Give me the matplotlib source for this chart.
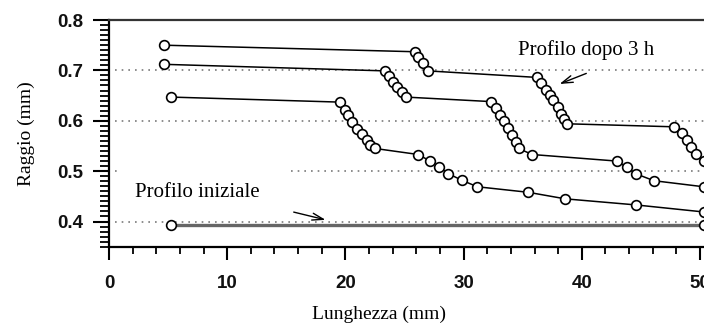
import matplotlib
matplotlib.use("Agg")
import matplotlib.pyplot as plt
from matplotlib.ticker import MultipleLocator

# profilo dopo 3 h (tre curve) e profilo iniziale
x_a = [4.65, 25.89, 26.17, 26.54, 26.96,
       36.23, 36.57, 36.94, 37.3, 37.59, 37.99, 38.27, 38.49, 38.72,
       47.8, 48.48, 48.87, 49.21, 49.64, 50.3]
y_a = [0.750, 0.737, 0.726, 0.714, 0.699,
       0.686, 0.674, 0.662, 0.651, 0.641, 0.627, 0.614, 0.604, 0.594,
       0.588, 0.575, 0.561, 0.548, 0.535, 0.521]

x_b = [4.68, 23.35, 23.7, 24.05, 24.4, 24.75, 25.1,
       32.35, 32.7, 33.05, 33.4, 33.75, 34.1, 34.4, 34.65, 35.8,
       42.95, 43.8, 44.55, 46.1, 50.3]
y_b = [0.712, 0.699, 0.688, 0.677, 0.667, 0.657, 0.647,
       0.638, 0.625, 0.612, 0.599, 0.586, 0.572, 0.558, 0.545, 0.533,
       0.520, 0.508, 0.495, 0.481, 0.469]

x_c = [5.25, 19.54, 19.97, 20.25, 20.6, 20.95, 21.37, 21.8, 22.08, 22.5,
       26.17, 27.16, 27.95, 28.71, 29.84, 31.16, 35.47, 38.6, 44.55, 50.3]
y_c = [0.647, 0.637, 0.621, 0.611, 0.598, 0.584, 0.573, 0.561, 0.551, 0.545,
       0.533, 0.520, 0.508, 0.495, 0.482, 0.469, 0.458, 0.445, 0.433, 0.419]

x_ini = [5.25, 50.3]
y_ini = [0.393, 0.393]

yticks = [0.4, 0.5, 0.6, 0.7, 0.8]
xticks = [0, 10, 20, 30, 40, 50]

fig = plt.figure(figsize=(7.04, 3.29), dpi=100)
ax = fig.add_axes([109 / 704, 82.3 / 329, 595 / 704, 226.7 / 329])

# linee tratteggiate di riferimento
for yv in [0.4, 0.6, 0.7]:
    ax.hlines(yv, 0.5, 51, colors="#7a7a7a", linestyles=(0, (1, 3)), lw=1.2, zorder=1)
ax.hlines(0.5, 0.5, 1.0, colors="#7a7a7a", linestyles=(0, (1, 3)), lw=1.2, zorder=1)
ax.hlines(0.5, 15.4, 51, colors="#7a7a7a", linestyles=(0, (1, 3)), lw=1.2, zorder=1)

mk = dict(marker="o", markersize=7, markerfacecolor="white",
          markeredgecolor="black", markeredgewidth=1.2, clip_on=True)
ax.plot(x_ini, y_ini, color="#666666", lw=2.4, zorder=2, **mk)
ax.plot(x_c, y_c, color="black", lw=1.1, zorder=3, **mk)
ax.plot(x_b, y_b, color="black", lw=1.1, zorder=3, **mk)
ax.plot(x_a, y_a, color="black", lw=1.1, zorder=3, **mk)

ax.set_xlim(0, 50.34)
ax.set_ylim(0.35, 0.8)
ax.set_xticks(xticks)
ax.set_yticks(yticks)
ax.xaxis.set_minor_locator(MultipleLocator(2))
ax.yaxis.set_minor_locator(MultipleLocator(0.01))
ax.set_yticklabels(["%.1f" % v for v in yticks])

for s in ["left", "bottom", "top"]:
    ax.spines[s].set_linewidth(1.6)
ax.spines["right"].set_visible(False)
ax.spines["top"].set_color("#333333")

ax.tick_params(axis="y", which="major", length=11.5, width=1.5, pad=7)
ax.tick_params(axis="y", which="minor", length=6.5, width=1.3)
ax.tick_params(axis="x", which="major", length=9.5, width=1.5, pad=11)
ax.tick_params(axis="x", which="minor", length=5, width=1.3)
for lab in ax.get_xticklabels() + ax.get_yticklabels():
    lab.set_fontfamily("Liberation Sans")
    lab.set_fontweight("bold")
    lab.set_fontsize(13.5)
    lab.set_color("#111111")

ax.set_xlabel("Lunghezza (mm)", family="Liberation Serif", fontsize=14)
ax.set_ylabel("Raggio (mm)", family="Liberation Serif", fontsize=14)
ax.xaxis.set_label_coords(0.454, -0.262)
ax.yaxis.set_label_coords(-0.124, 0.5)

ax.text(2.2, 0.458, "Profilo iniziale", family="Liberation Serif", fontsize=15,
        va="center", ha="left")
ax.annotate("", xy=(18.55, 0.402), xytext=(15.4, 0.42),
            arrowprops=dict(arrowstyle="->,head_length=0.8,head_width=0.25", lw=1.0, color="black"))
ax.text(34.6, 0.74, "Profilo dopo 3 h", family="Liberation Serif", fontsize=15,
        va="center", ha="left")
ax.annotate("", xy=(37.9, 0.671), xytext=(40.6, 0.696),
            arrowprops=dict(arrowstyle="->,head_length=0.8,head_width=0.25", lw=1.0, color="black"))

fig.savefig("out.png", dpi=100)
